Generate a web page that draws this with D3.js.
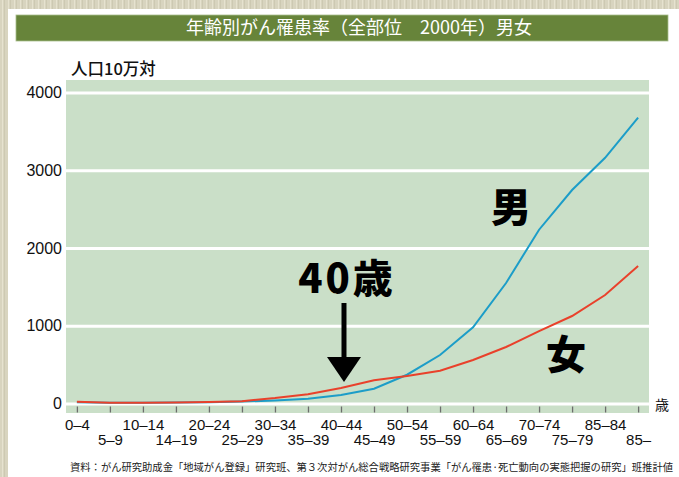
<!DOCTYPE html>
<html>
<head>
<meta charset="utf-8">
<script src="https://cdn.jsdelivr.net/npm/d3@7"></script>
<style>
  body { margin: 0; background: #d8d4bf; }
  svg { display: block; }
</style>
</head>
<body>
<script>
(function() {
  'use strict';

  // age groups (labels kept as printed, typos included)
  const ageGroups = ['0–4', '5–9', '10–14', '14–19', '20–24', '25–29', '30–34', '35–39', '40–44',
    '45–49', '50–54', '55–59', '60–64', '65–69', '70–74', '75–79', '85–84', '85–'];
  // incidence per 100,000 population
  const maleRates = [15, 10, 10, 12, 15, 25, 40, 60, 110, 190, 370, 624, 980, 1550, 2235, 2746, 3160, 3676];
  const femaleRates = [22, 10, 10, 12, 18, 30, 70, 120, 200, 300, 355, 422, 560, 727, 932, 1125, 1395, 1768];
  const yTicks = [0, 1000, 2000, 3000, 4000];

  const w = 679;
  const h = 477;
  const plot = { left: 66, right: 649, top: 80, bottom: 413 };

  const jp = '"Noto Sans CJK JP", sans-serif';
  const num = '"Liberation Sans Narrow", "Liberation Sans", Arial, sans-serif';

  const svg = d3.select('body').append('svg')
    .attr('width', w)
    .attr('height', h);

  // textured beige frame
  const pat = svg.append('defs').append('pattern')
    .attr('id', 'tex')
    .attr('width', 6).attr('height', 6)
    .attr('patternUnits', 'userSpaceOnUse');
  pat.append('rect').attr('width', 6).attr('height', 6).attr('fill', '#d8d4bf');
  pat.append('rect').attr('x', 2).attr('width', 1).attr('height', 6).attr('fill', '#e6e2cf');
  pat.append('rect').attr('x', 4).attr('width', 1).attr('height', 6).attr('fill', '#cdc9b2');
  svg.append('rect').attr('width', w).attr('height', h).attr('fill', 'url(#tex)');

  svg.append('rect')
    .attr('x', 8).attr('y', 9)
    .attr('width', w - 8).attr('height', h - 9)
    .attr('fill', '#ffffff');

  // title bar
  svg.append('rect')
    .attr('x', 16).attr('y', 15)
    .attr('width', 652).attr('height', 26)
    .attr('fill', '#67843a')
    .attr('stroke', '#a9bd8c')
    .attr('stroke-width', 0.8);
  svg.append('text')
    .attr('x', 359).attr('y', 34)
    .attr('text-anchor', 'middle')
    .attr('fill', '#fff')
    .style('font-family', jp)
    .style('font-size', '18px')
    .text('年齢別がん罹患率（全部位　2000年）男女');

  // scales
  const xScale = d3.scalePoint()
    .domain(ageGroups)
    .range([plot.left, plot.right])
    .padding(0.33);

  const yScale = d3.scaleLinear()
    .domain([0, 4000])
    .range([403.5, 92.5]);

  // plot background
  svg.append('rect')
    .attr('x', plot.left).attr('y', plot.top)
    .attr('width', plot.right - plot.left)
    .attr('height', plot.bottom - plot.top)
    .attr('fill', '#cadfc8');

  // gridlines
  svg.append('g')
    .attr('transform', 'translate(' + plot.left + ',0)')
    .call(d3.axisLeft(yScale).tickValues(yTicks).tickSize(-(plot.right - plot.left)).tickFormat(''))
    .call(g => g.select('.domain').remove())
    .call(g => g.selectAll('line').attr('stroke', '#fff').attr('stroke-width', 3));

  // y axis labels
  svg.append('g')
    .attr('id', 'y-axis')
    .attr('transform', 'translate(' + plot.left + ',0)')
    .call(d3.axisLeft(yScale).tickValues(yTicks).tickSize(0).tickPadding(4).tickFormat(d3.format('d')))
    .call(g => g.select('.domain').remove())
    .call(g => g.selectAll('text')
      .attr('fill', '#111')
      .style('font-family', num)
      .style('font-size', '16px'));

  // x axis: ticks inside the green strip, labels in two staggered rows
  const xAxis = svg.append('g')
    .attr('id', 'x-axis')
    .attr('transform', 'translate(0,406.5)')
    .call(d3.axisBottom(xScale).tickSize(6).tickPadding(0))
    .call(g => g.select('.domain').remove())
    .call(g => g.selectAll('line').attr('stroke', '#6d6d6d').attr('stroke-width', 1.3));
  xAxis.selectAll('text')
    .attr('fill', '#111')
    .attr('dy', null)
    .attr('y', (d, i) => i % 2 === 0 ? 23.5 : 38.5)
    .style('font-family', num)
    .style('font-size', '15px');

  svg.append('text')
    .attr('x', 655).attr('y', 410)
    .attr('fill', '#111')
    .style('font-family', jp)
    .style('font-size', '14px')
    .text('歳');

  svg.append('text')
    .attr('x', 71).attr('y', 75)
    .attr('fill', '#111')
    .style('font-family', jp)
    .style('font-size', '16.5px')
    .style('font-weight', 500)
    .text('人口10万対');

  // series lines
  const line = d3.line()
    .x((d, i) => xScale(ageGroups[i]))
    .y(d => yScale(d));

  svg.append('path')
    .datum(maleRates)
    .attr('fill', 'none')
    .attr('stroke', '#1c9dc8')
    .attr('stroke-width', 2)
    .attr('d', line);

  svg.append('path')
    .datum(femaleRates)
    .attr('fill', 'none')
    .attr('stroke', '#e9412b')
    .attr('stroke-width', 2)
    .attr('d', line);

  // annotations
  svg.append('text')
    .attr('x', 511).attr('y', 222)
    .attr('text-anchor', 'middle')
    .style('font-family', jp)
    .style('font-size', '40px')
    .style('font-weight', 900)
    .text('男');

  svg.append('text')
    .attr('x', 566).attr('y', 369)
    .attr('text-anchor', 'middle')
    .style('font-family', jp)
    .style('font-size', '40px')
    .style('font-weight', 900)
    .text('女');

  svg.append('text')
    .attr('x', 347).attr('y', 293)
    .attr('text-anchor', 'middle')
    .style('font-family', jp)
    .style('font-size', '40px')
    .style('font-weight', 900)
    .style('letter-spacing', '3px')
    .text('40歳');

  const ax = xScale('40–44') + 3;
  svg.append('line')
    .attr('x1', ax).attr('x2', ax)
    .attr('y1', 303).attr('y2', 362)
    .attr('stroke', '#000')
    .attr('stroke-width', 5);
  svg.append('path')
    .attr('d', 'M' + (ax - 17) + ',357L' + (ax + 17) + ',357L' + ax + ',382Z')
    .attr('fill', '#000');

  // source note
  svg.append('text')
    .attr('x', 70).attr('y', 471)
    .attr('fill', '#222')
    .style('font-family', jp)
    .style('font-size', '10.3px')
    .text('資料：がん研究助成金「地域がん登録」研究班、第３次対がん総合戦略研究事業「がん罹患·死亡動向の実態把握の研究」班推計値');
}());
</script>
</body>
</html>
